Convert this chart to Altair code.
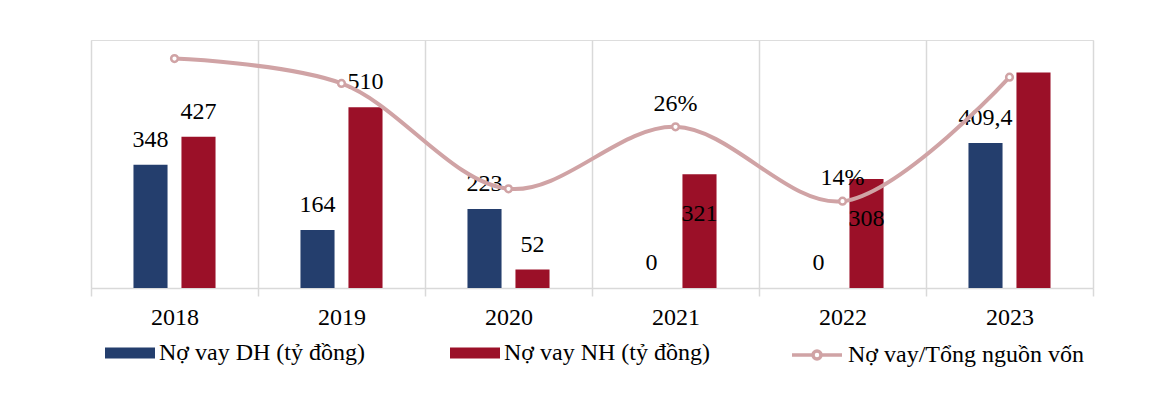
import altair as alt
import pandas as pd

years = ["2018", "2019", "2020", "2021", "2022", "2023"]
dh_values = [348, 164, 223, 0, 0, 409.4]
nh_values = [427, 510, 52, 321, 308, 608]
dh_labels = ["348", "164", "223", "0", "0", "409,4"]
nh_labels = ["427", "510", "52", "321", "308", ""]
nh_label_inside = [False, False, False, True, True, False]
ratio_values = [37, 33, 16, 26, 14, 34]
ratio_labels = ["", "", "", "26%", "14%", ""]

S1 = "Nợ vay DH (tỷ đồng)"
S2 = "Nợ vay NH (tỷ đồng)"
S3 = "Nợ vay/Tổng nguồn vốn"

NAVY = "#243E6D"
RED = "#9B1028"
PINK = "#D0A3A5"
GRID = "#D9D9D9"
FONT = "Liberation Serif"
FS = 24

rows = []
for i, y in enumerate(years):
    rows.append({"year": y, "series": S1, "value": dh_values[i], "label": dh_labels[i], "inside": False})
    rows.append({"year": y, "series": S2, "value": nh_values[i], "label": nh_labels[i], "inside": nh_label_inside[i]})
bars_df = pd.DataFrame(rows)
line_df = pd.DataFrame({"year": years, "ratio": ratio_values, "label": ratio_labels, "name": [S3] * len(years)})

x_enc = alt.X(
    "year:N",
    sort=years,
    scale=alt.Scale(paddingInner=0, paddingOuter=0),
    axis=alt.Axis(
        title=None, labelAngle=0, tickBand="extent", grid=True,
        gridColor=GRID, gridWidth=1.5, domainColor=GRID, domainWidth=1.5,
        tickColor=GRID, tickWidth=1.5, tickSize=8,
        labelFont=FONT, labelFontSize=FS, labelColor="black", labelPadding=9,
    ),
)
xoff = alt.XOffset("series:N", scale=alt.Scale(domain=[S1, S2], paddingInner=0.29, paddingOuter=0.885))
y_bar = alt.Y("value:Q", scale=alt.Scale(domain=[0, 700]), axis=None)

rect_path = "M-1,-0.22H1V0.22H-1Z"
line_path = ("M-1,0H-0.16 M0.16,0H1 "
             "M-0.16,0A0.16,0.16 0 1,1 0.16,0A0.16,0.16 0 1,1 -0.16,0Z")

bar_legend = alt.Legend(
    title=None, orient="none", legendX=14, legendY=288, direction="horizontal",
    columns=2, columnPadding=85, symbolSize=2500, symbolType=rect_path,
    symbolStrokeWidth=0, symbolOpacity=1,
    labelFont=FONT, labelFontSize=FS, labelColor="black", labelOffset=4,
    labelLimit=400,
)
line_legend = alt.Legend(
    title=None, orient="none", legendX=699, legendY=288, direction="horizontal",
    symbolSize=2500, symbolType=line_path, symbolStrokeWidth=3.5,
    symbolFillColor="white", symbolStrokeColor=PINK, symbolOpacity=1,
    labelFont=FONT, labelFontSize=FS, labelColor="black", labelOffset=4,
    labelLimit=400,
)

bars = alt.Chart(bars_df).mark_bar().encode(
    x=x_enc,
    xOffset=xoff,
    y=y_bar,
    color=alt.Color("series:N", scale=alt.Scale(domain=[S1, S2], range=[NAVY, RED]), legend=bar_legend),
)

labels_above = alt.Chart(bars_df).transform_filter("!datum.inside").mark_text(
    dy=-25, font=FONT, fontSize=FS, color="black", baseline="middle"
).encode(x=alt.X("year:N", sort=years), xOffset=alt.XOffset("series:N"), y=y_bar, text="label:N")

labels_inside = alt.Chart(bars_df).transform_filter("datum.inside").mark_text(
    dy=40, font=FONT, fontSize=FS, color="black", baseline="middle"
).encode(x=alt.X("year:N", sort=years), xOffset=alt.XOffset("series:N"), y=y_bar, text="label:N")

y_line = alt.Y("ratio:Q", scale=alt.Scale(domain=[0, 40]), axis=None)
line = alt.Chart(line_df).mark_line(
    interpolate="catmull-rom", strokeWidth=4
).encode(
    x=alt.X("year:N", sort=years), y=y_line,
    stroke=alt.Stroke("name:N", scale=alt.Scale(domain=[S3], range=[PINK]), legend=line_legend),
)
points = alt.Chart(line_df).mark_point(
    filled=True, fill="white", stroke=PINK, strokeWidth=2.5, size=45, opacity=1
).encode(x=alt.X("year:N", sort=years), y=y_line)
line_labels = alt.Chart(line_df).mark_text(
    dy=-23, font=FONT, fontSize=FS, color="black", baseline="middle"
).encode(x=alt.X("year:N", sort=years), y=y_line, text="label:N")

bar_layer = alt.layer(bars, labels_above, labels_inside)
line_layer = alt.layer(line, points, line_labels)

chart = alt.layer(bar_layer, line_layer).resolve_scale(y="independent").properties(
    width=1002, height=248,
    padding={"left": 82, "top": 15, "right": 5, "bottom": 5},
).configure_view(stroke=None).configure(background="white")

chart.save("out.html", embed_options={"renderer": "svg", "actions": False})
